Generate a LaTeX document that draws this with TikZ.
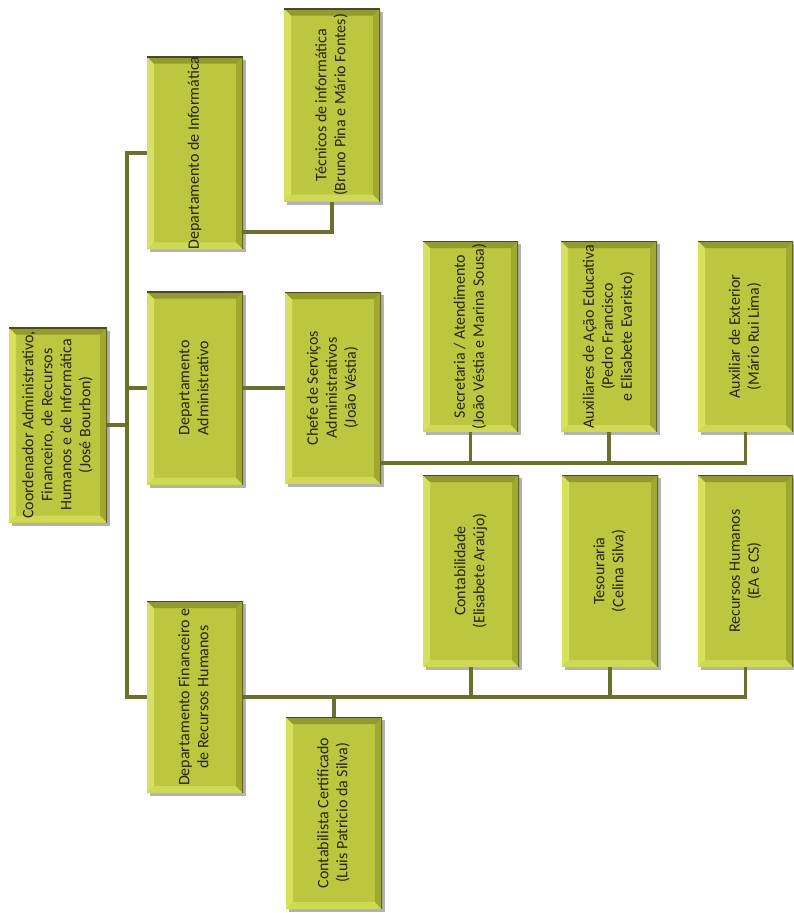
\documentclass[tikz,border=0pt]{standalone}
\usepackage{fontspec}
\setmainfont{Carlito}
\usetikzlibrary{calc}
\definecolor{boxfill}{RGB}{188,198,62}
\definecolor{boxlight}{RGB}{216,224,98}
\definecolor{boxdark}{RGB}{160,168,48}
\definecolor{boxedge}{RGB}{72,74,32}
\definecolor{linecol}{RGB}{108,112,46}
\definecolor{txt}{RGB}{38,38,18}
\newcommand{\rt}[1]{\rotatebox{90}{\begin{tabular}{@{}c@{}}#1\end{tabular}}}
\tikzset{
  orgbox/.style={rectangle, fill=boxfill, inner sep=0pt, text=txt,
    minimum width=96pt, minimum height=192pt,
    font=\fontsize{16}{19}\selectfont,
    preaction={fill=black, opacity=0.3, transform canvas={xshift=3pt,yshift=-3pt}},
    path picture={
      \coordinate (SW) at (path picture bounding box.south west);
      \coordinate (NW) at (path picture bounding box.north west);
      \coordinate (NE) at (path picture bounding box.north east);
      \coordinate (SE) at (path picture bounding box.south east);
      \fill[boxlight] (SW) -- (NW) -- ([shift={(7pt,-7pt)}]NW) -- ([shift={(7pt,7pt)}]SW) -- cycle;
      \fill[boxlight!70!boxfill] (SW) -- (SE) -- ([shift={(-7pt,7pt)}]SE) -- ([shift={(7pt,7pt)}]SW) -- cycle;
      \fill[boxdark] (SE) -- (NE) -- ([shift={(-7pt,-7pt)}]NE) -- ([shift={(-7pt,7pt)}]SE) -- cycle;
      \fill[boxdark!85!boxedge] (NW) -- (NE) -- ([shift={(-7pt,-7pt)}]NE) -- ([shift={(7pt,-7pt)}]NW) -- cycle;
      \draw[boxedge, line width=2pt] (NW) -- (NE);
      \draw[boxedge!70!boxdark, line width=1.2pt] (NE) -- (SE);
    }},
  conn/.style={draw=linecol, line width=3.5pt}
}
\begin{document}
\begin{tikzpicture}[x=1pt, y=-1pt]
\useasboundingbox[fill=white] (0,0) rectangle (794,913);

% boxes
\node[orgbox, minimum width=98pt, minimum height=195pt] (coord) at (58,425)
  {\rt{Coordenador Administrativo,\\Financeiro, de Recursos\\Humanos e de Informática\\(José Bourbon)}};
\node[orgbox] (dinf) at (195,153) {\rt{Departamento de Informática}};
\node[orgbox, minimum height=193pt] (tec) at (332,105)
  {\rt{Técnicos de informática\\(Bruno Pina e Mário Fontes)}};
\node[orgbox, minimum height=193pt] (dadm) at (195,388) {\rt{Departamento\\Administrativo}};
\node[orgbox] (chefe) at (333,388) {\rt{Chefe de Serviços\\Administrativos\\(João Véstia)}};
\node[orgbox, minimum width=95pt, minimum height=191pt] (sec) at (470.5,336.5)
  {\rt{Secretaria / Atendimento\\(João Véstia e Marina Sousa)}};
\node[orgbox, minimum height=191pt] (aux) at (609,336.5)
  {\rt{Auxiliares de Ação Educativa\\(Pedro Francisco\\e Elisabete Evaristo)}};
\node[orgbox, minimum width=95pt, minimum height=191pt] (ext) at (745.5,336.5)
  {\rt{Auxiliar de Exterior\\(Mário Rui Lima)}};
\node[orgbox] (dfin) at (195,697) {\rt{Departamento Financeiro e\\de Recursos Humanos}};
\node[orgbox] (ccert) at (334,813) {\rt{Contabilista Certificado\\(Luis Patricio da Silva)}};
\node[orgbox] (cont) at (471,571) {\rt{Contabilidade\\(Elisabete Araújo)}};
\node[orgbox] (tes) at (610,571) {\rt{Tesouraria\\(Celina Silva)}};
\node[orgbox, minimum width=95pt] (rh) at (745.5,571) {\rt{Recursos Humanos\\(EA e CS)}};

% junction coordinates
\coordinate (busx) at (127,0);
\coordinate (tecj) at (0,232);
\coordinate (admbus) at (0,463);

% connectors
\draw[conn] (coord.east) -- (coord.east -| busx);
\draw[conn] (dinf.west) -- (dinf.west -| busx) -- (dfin.west -| busx) -- (dfin.west);
\draw[conn] (dadm.west) -- (dadm.west -| busx);
\draw[conn] (tec.south) |- (dinf.east |- tecj);
\draw[conn] (dadm.east) -- (chefe.west |- dadm.east);
\draw[conn] (chefe.east |- admbus) -- (ext.south |- admbus) -- (ext.south);
\draw[conn] (sec.south) -- (sec.south |- admbus);
\draw[conn] (aux.south) -- (aux.south |- admbus);
\draw[conn] (dfin.east) -- (rh.south |- dfin.east) -- (rh.south);
\draw[conn] (cont.south) -- (cont.south |- dfin.east);
\draw[conn] (tes.south) -- (tes.south |- dfin.east);
\draw[conn] (ccert.north) -- (ccert.north |- dfin.east);
\end{tikzpicture}
\end{document}
